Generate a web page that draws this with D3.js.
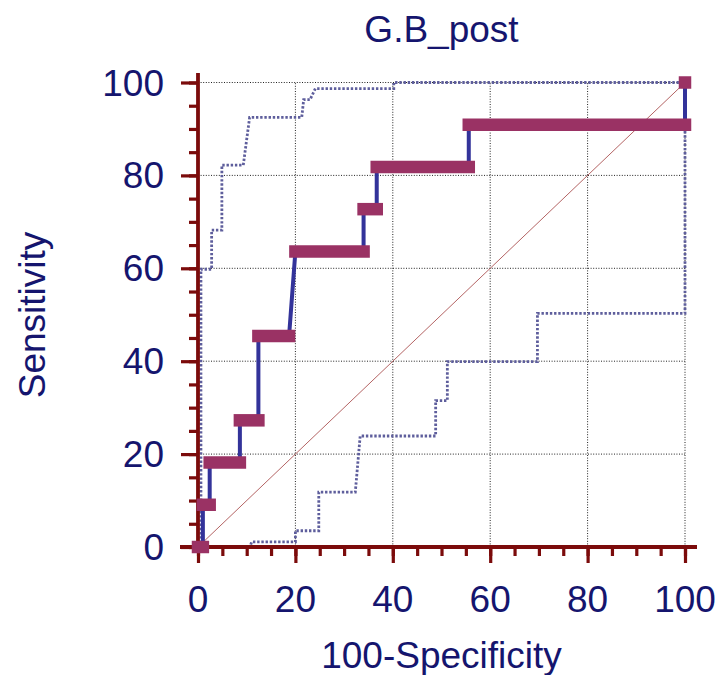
<!DOCTYPE html>
<html>
<head>
<meta charset="utf-8">
<script src="https://cdn.jsdelivr.net/npm/d3@7"></script>
<style>
  html, body { margin: 0; padding: 0; background: #ffffff; }
  svg { display: block; }
  text { font-family: "Liberation Sans", Arial, sans-serif; fill: #15156e; }
</style>
</head>
<body>
<svg id="chart" width="720" height="675"></svg>
<script>
// ---- data ----
const title = "G.B_post";
const xLabel = "100-Specificity";
const yLabel = "Sensitivity";
const xTicks = [0, 20, 40, 60, 80, 100];
const yTicks = [0, 20, 40, 60, 80, 100];
const minorTicks = d3.range(0, 101, 5);

// ROC steps: sensitivity level and FPR span of each horizontal segment
const sensLevels = [0, 9.09, 18.18, 27.27, 45.45, 63.64, 72.73, 81.82, 90.91, 100];
const fprFrom    = [0, 1.0, 2.4, 8.6, 12.4, 20.0, 34.0, 36.7, 55.6, 100];
const fprTo      = [1.0, 2.4, 8.6, 12.4, 18.7, 34.0, 36.7, 55.6, 100, 100];

// confidence bounds
const upperX = [0.6, 0.6, 2.8, 2.8, 4.9, 4.9, 9.3, 10.6, 21.3, 21.7, 23.0, 24.1, 40.2, 40.2, 100];
const upperY = [0, 59.8, 59.8, 68.2, 68.2, 82.2, 82.2, 92.5, 92.5, 96.3, 96.3, 98.7, 98.7, 100, 100];
const lowerX = [0, 10.7, 11.0, 20.0, 20.0, 24.8, 24.8, 32.3, 33.3, 48.8, 48.8, 51.2, 51.2, 69.7, 69.7, 100, 100];
const lowerY = [0, 0, 1.1, 1.1, 3.5, 3.5, 11.8, 11.8, 23.9, 23.9, 31.5, 31.5, 39.9, 39.9, 50.3, 50.3, 100];

// ---- layout ----
const svg = d3.select("#chart");
const x = d3.scaleLinear().domain([0, 100]).range([198, 685]);
const y = d3.scaleLinear().domain([0, 100]).range([547, 82.5]);

const axisColor = "#7b0b0b";
const fontSize = 37;

// grid
const grid = svg.append("g");
grid.selectAll("line.gx").data(xTicks.filter(d => d > 0)).join("line")
  .attr("x1", d => x(d)).attr("x2", d => x(d))
  .attr("y1", y(0)).attr("y2", y(100))
  .attr("stroke", "#222").attr("stroke-width", 1).attr("stroke-dasharray", "1,1.6");
grid.selectAll("line.gy").data(yTicks.filter(d => d > 0)).join("line")
  .attr("x1", x(0)).attr("x2", x(100))
  .attr("y1", d => y(d)).attr("y2", d => y(d))
  .attr("stroke", "#222").attr("stroke-width", 1).attr("stroke-dasharray", "1,1.6");

// diagonal
svg.append("line")
  .attr("x1", x(0)).attr("y1", y(0)).attr("x2", x(100)).attr("y2", y(100))
  .attr("stroke", "#b46464").attr("stroke-width", 1);

// confidence bands
const line = d3.line().x(d => x(d[0])).y(d => y(d[1]));
const upperPts = upperX.map((v, i) => [v, upperY[i]]);
const lowerPts = lowerX.map((v, i) => [v, lowerY[i]]);
[upperPts, lowerPts].forEach(pts => {
  svg.append("path").attr("d", line(pts))
    .attr("fill", "none").attr("stroke", "#5e5e9c")
    .attr("stroke-width", 2.8).attr("stroke-dasharray", "2.4,1.8");
});

// axes
const yAxisG = svg.append("g").attr("transform", `translate(${x(0)},0)`);
yAxisG.call(d3.axisLeft(y).tickValues(minorTicks).tickSize(9).tickFormat(""));
yAxisG.call(g => g.select(".domain").remove());
const yMajor = svg.append("g").attr("transform", `translate(${x(0)},0)`)
  .call(d3.axisLeft(y).tickValues(yTicks).tickSize(17).tickFormat(""));
yMajor.select(".domain").remove();
const xAxisG = svg.append("g").attr("transform", `translate(0,${y(0)})`);
xAxisG.call(d3.axisBottom(x).tickValues(minorTicks).tickSize(9).tickFormat(""));
xAxisG.select(".domain").remove();
const xMajor = svg.append("g").attr("transform", `translate(0,${y(0)})`)
  .call(d3.axisBottom(x).tickValues(xTicks).tickSize(16).tickFormat(""));
xMajor.select(".domain").remove();
svg.selectAll(".tick line").attr("stroke", axisColor).attr("stroke-width", 3.2);

// axis lines
svg.append("line").attr("x1", x(0)).attr("x2", x(0)).attr("y1", 73).attr("y2", y(0) + 3)
  .attr("stroke", axisColor).attr("stroke-width", 3.8);
svg.append("line").attr("x1", 180).attr("x2", 697).attr("y1", y(0)).attr("y2", y(0))
  .attr("stroke", axisColor).attr("stroke-width", 4);

// ROC curve line
const rocPts = [];
sensLevels.forEach((s, i) => { rocPts.push([fprFrom[i], s]); rocPts.push([fprTo[i], s]); });
svg.append("path").attr("d", line(rocPts))
  .attr("fill", "none").attr("stroke", "#33339a").attr("stroke-width", 4);

// thick horizontal segments
svg.selectAll("line.bar").data(sensLevels).join("line")
  .attr("class", "bar")
  .attr("x1", (d, i) => x(fprFrom[i])).attr("x2", (d, i) => x(fprTo[i]))
  .attr("y1", d => y(d)).attr("y2", d => y(d))
  .attr("stroke", "#9a3264").attr("stroke-width", 12.5).attr("stroke-linecap", "square");

// tick labels
svg.selectAll("text.yt").data(yTicks).join("text")
  .attr("class", "yt")
  .attr("x", 164).attr("y", d => y(d) + 13)
  .attr("text-anchor", "end").attr("font-size", fontSize)
  .text(d => d);
svg.selectAll("text.xt").data(xTicks).join("text")
  .attr("class", "xt")
  .attr("x", d => x(d)).attr("y", 612)
  .attr("text-anchor", "middle").attr("font-size", fontSize)
  .text(d => d);

// titles
svg.append("text").attr("x", 441.5).attr("y", 42)
  .attr("text-anchor", "middle").attr("font-size", fontSize).text(title);
svg.append("text").attr("x", 441.5).attr("y", 668)
  .attr("text-anchor", "middle").attr("font-size", fontSize).text(xLabel);
svg.append("text").attr("transform", "translate(45,315) rotate(-90)")
  .attr("text-anchor", "middle").attr("font-size", fontSize).text(yLabel);
</script>
</body>
</html>
